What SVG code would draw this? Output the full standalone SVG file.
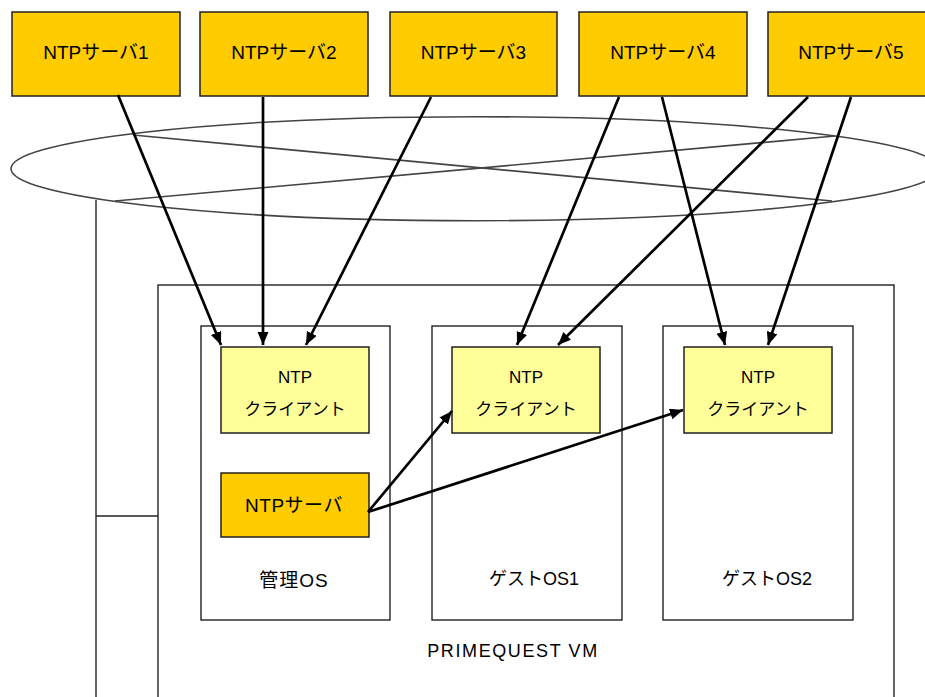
<svg xmlns="http://www.w3.org/2000/svg" width="925" height="697" viewBox="0 0 925 697">
<style>
text{font-family:"Liberation Sans","Noto Sans CJK JP",sans-serif;fill:#000;text-anchor:middle}
.srv{fill:#FFCC00;stroke:#222;stroke-width:1.5}
.cli{fill:#FFFF99;stroke:#222;stroke-width:1.5}
.frame{fill:none;stroke:#222;stroke-width:1.4}
.net{fill:none;stroke:#444;stroke-width:1.6}
.arr{fill:none;stroke:#000;stroke-width:2.7;marker-end:url(#ah)}
.t19{font-size:19px}
.t17{font-size:17px}
.t18{font-size:18px}
</style>
<defs>
<marker id="ah" markerUnits="userSpaceOnUse" markerWidth="15" markerHeight="13" refX="13" refY="5.5" orient="auto">
<path d="M0,0 L13,5.5 L0,11 z" fill="#000"/>
</marker>
</defs>
<g id="network">
<ellipse class="net" cx="475" cy="168.7" rx="464" ry="52"/>
<line class="net" x1="133" y1="135" x2="832" y2="201"/>
<line class="net" x1="115" y1="201" x2="835" y2="136"/>
</g>
<g id="chassis">
<line class="frame" x1="96" y1="200" x2="96" y2="710"/>
<line class="frame" x1="96" y1="516" x2="158" y2="516"/>
</g>
<g id="primequest-vm">
<rect class="frame" x="158" y="285" width="736" height="430"/>
<text class="t18" x="513" y="657" style="letter-spacing:1.6px">PRIMEQUEST VM</text>
</g>
<g id="kanri-os">
<rect class="frame" x="201" y="326" width="189" height="294"/>
<text class="t19" x="294" y="587" style="letter-spacing:1px">管理OS</text>
</g>
<g id="guest-os1">
<rect class="frame" x="432" y="326" width="190" height="294"/>
<text class="t18" x="534" y="585">ゲストOS1</text>
</g>
<g id="guest-os2">
<rect class="frame" x="663" y="326" width="190" height="294"/>
<text class="t18" x="767" y="585">ゲストOS2</text>
</g>
<g id="ntp-server-1"><rect class="srv" x="12" y="12" width="168" height="84"/><text class="t19" x="96" y="59">NTPサーバ1</text></g>
<g id="ntp-server-2"><rect class="srv" x="200" y="12" width="168" height="84"/><text class="t19" x="284" y="59">NTPサーバ2</text></g>
<g id="ntp-server-3"><rect class="srv" x="390" y="12" width="167" height="84"/><text class="t19" x="473.5" y="59">NTPサーバ3</text></g>
<g id="ntp-server-4"><rect class="srv" x="579" y="12" width="168" height="84"/><text class="t19" x="663" y="59">NTPサーバ4</text></g>
<g id="ntp-server-5"><rect class="srv" x="768" y="12" width="168" height="84"/><text class="t19" x="851" y="59">NTPサーバ5</text></g>
<g id="client-kanri"><rect class="cli" x="221" y="347" width="148" height="86"/><text class="t17" x="295" y="383">NTP</text><text class="t17" x="295" y="415">クライアント</text></g>
<g id="client-guest1"><rect class="cli" x="452" y="347" width="148" height="86"/><text class="t17" x="526" y="383">NTP</text><text class="t17" x="526" y="415">クライアント</text></g>
<g id="client-guest2"><rect class="cli" x="684" y="347" width="148" height="86"/><text class="t17" x="758" y="383">NTP</text><text class="t17" x="758" y="415">クライアント</text></g>
<g id="local-ntp-server"><rect class="srv" x="221" y="473" width="148" height="64"/><text class="t19" x="294" y="512" style="letter-spacing:0.5px">NTPサーバ</text></g>
<g id="connectors">
<line class="arr" x1="118" y1="95" x2="221" y2="345"/>
<line class="arr" x1="263" y1="97" x2="263" y2="345"/>
<line class="arr" x1="431" y1="97" x2="306" y2="345"/>
<line class="arr" x1="619" y1="97" x2="517" y2="345"/>
<line class="arr" x1="808" y1="97" x2="558" y2="345"/>
<line class="arr" x1="662" y1="97" x2="725" y2="345"/>
<line class="arr" x1="851" y1="97" x2="768" y2="345"/>
<line class="arr" x1="368" y1="512" x2="452" y2="411"/>
<line class="arr" x1="368" y1="512" x2="683" y2="410"/>
</g>
</svg>
